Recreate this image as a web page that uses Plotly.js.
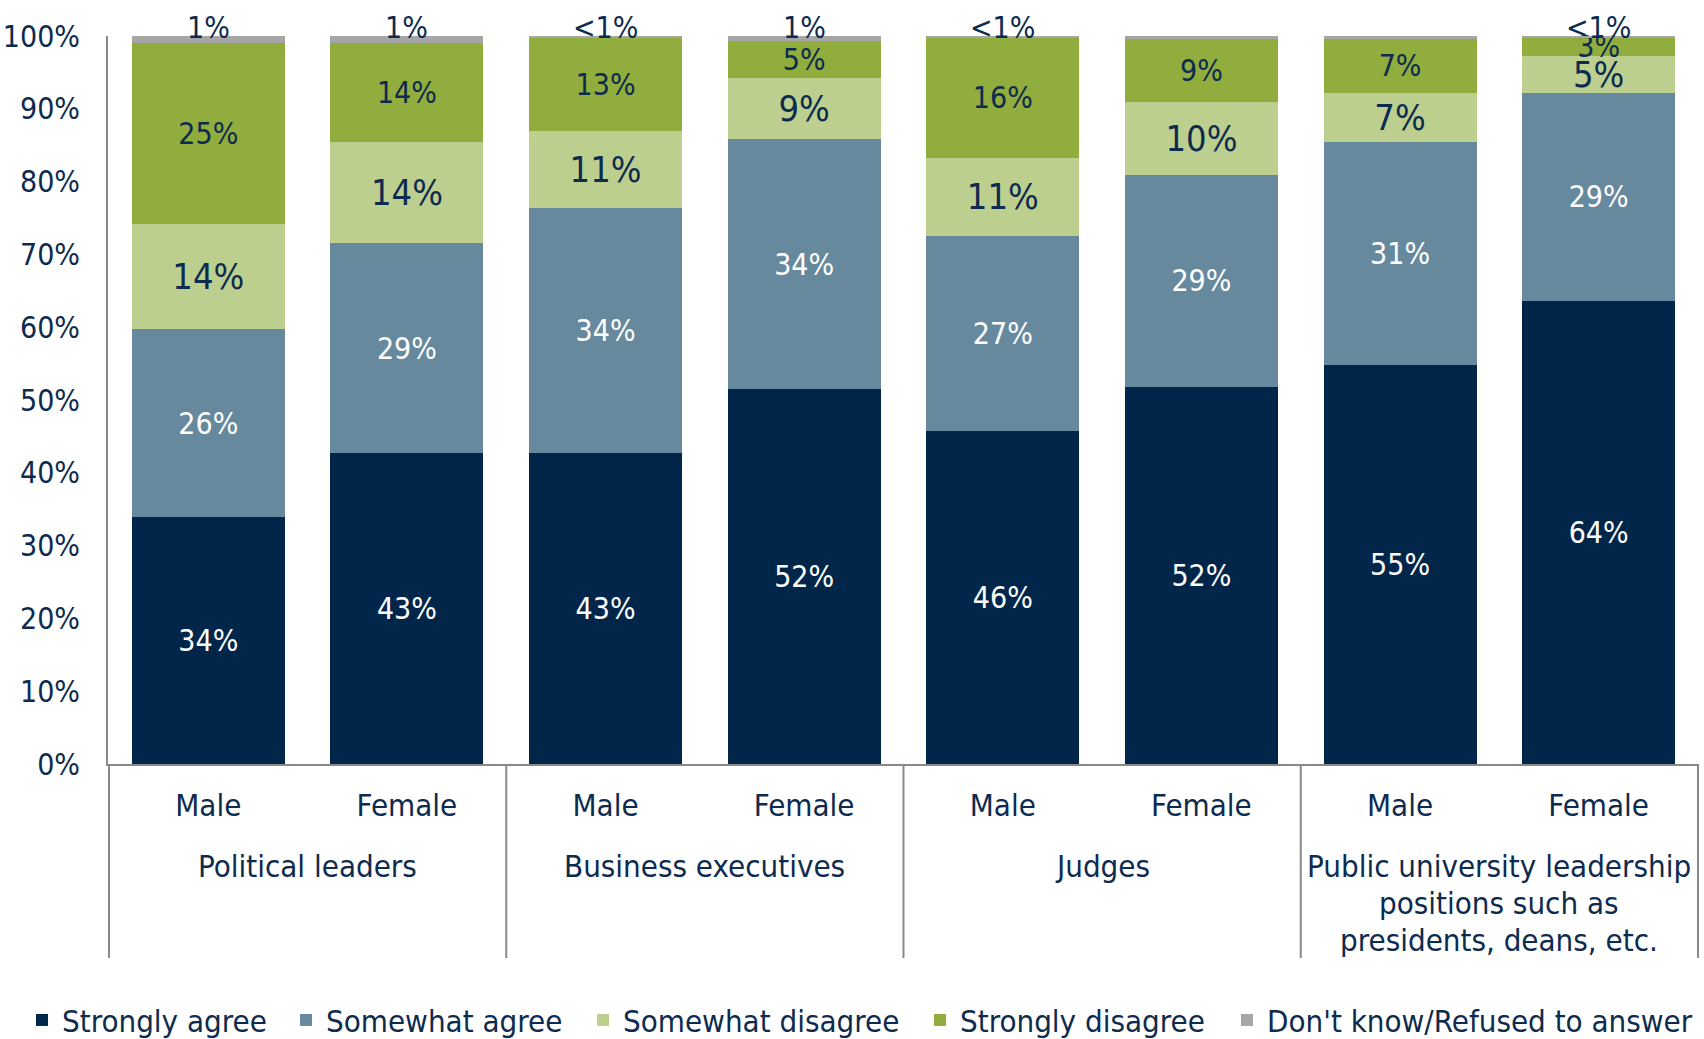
<!DOCTYPE html>
<html>
<head>
<meta charset="utf-8">
<script src="https://cdn.plot.ly/plotly-3.0.1.min.js"></script>
<style>
  html, body { margin: 0; padding: 0; background: #ffffff; }
  #chart { width: 1704px; height: 1039px; }
</style>
</head>
<body>
<div id="chart"></div>
<script>
// ---- Data ----
const groupLines = [
  ["Political leaders"],
  ["Business executives"],
  ["Judges"],
  ["Public university leadership", "positions such as", "presidents, deans, etc."]
];
const categories = ["PL-Male", "PL-Female", "BE-Male", "BE-Female",
                    "J-Male", "J-Female", "PU-Male", "PU-Female"];
const tickLabels = ["Male", "Female", "Male", "Female", "Male", "Female", "Male", "Female"];

const seriesNames = ["Strongly agree", "Somewhat agree", "Somewhat disagree",
                     "Strongly disagree", "Don't know/Refused to answer"];

const stronglyAgree    = [33.9, 42.7, 42.7, 51.5, 45.7, 51.8, 54.8, 63.6];
const somewhatAgree    = [25.8, 28.8, 33.7, 34.3, 26.8, 29.1, 30.7, 28.6];
const somewhatDisagree = [14.5, 14.0, 10.6,  8.4, 10.8, 10.0,  6.7,  5.1];
const stronglyDisagree = [24.8, 13.5, 12.7,  5.1, 16.4,  8.7,  7.4,  2.4];
const dontKnow         = [ 1.0,  1.0,  0.3,  0.7,  0.3,  0.4,  0.4,  0.3];

const saLabels  = ["34%", "43%", "43%", "52%", "46%", "52%", "55%", "64%"];
const swaLabels = ["26%", "29%", "34%", "34%", "27%", "29%", "31%", "29%"];
const swdLabels = ["14%", "14%", "11%", "9%", "11%", "10%", "7%", "5%"];
const sdLabels  = ["25%", "14%", "13%", "5%", "16%", "9%", "7%", "3%"];
const dkLabels  = ["1%", "1%", "<1%", "1%", "<1%", "<1%", "<1%", "<1%"];

const yTicks = [0, 10, 20, 30, 40, 50, 60, 70, 80, 90, 100];
const yTickLabels = ["0%", "10%", "20%", "30%", "40%", "50%", "60%", "70%", "80%", "90%", "100%"];

// ---- Styles ----
const colors = ["#02264a", "#67899e", "#bdcf8f", "#90ad3e", "#a6a6a6"];
const navy = "#0d2b4f";
const font = "'DejaVu Sans Condensed', 'DejaVu Sans', sans-serif";

const seriesValues = [stronglyAgree, somewhatAgree, somewhatDisagree, stronglyDisagree, dontKnow];
const seriesLabels = [saLabels, swaLabels, swdLabels, sdLabels, null];
const textColors = ["#ffffff", "#ffffff", navy, navy, navy];
const textSizes = [30, 30, 36, 30, 30];
const legendX = [22, 286, 583, 920, 1227];
const legendIds = ["legend", "legend2", "legend3", "legend4", "legend5"];

const traces = seriesValues.map((vals, i) => {
  const t = {
    type: "bar",
    name: seriesNames[i],
    x: categories,
    y: vals,
    marker: { color: colors[i], line: { width: 0 } },
    hoverinfo: "skip",
    cliponaxis: false,
    legend: legendIds[i]
  };
  if (seriesLabels[i]) {
    t.text = seriesLabels[i];
    t.textposition = "inside";
    t.insidetextanchor = "middle";
    t.textangle = 0;
    t.constraintext = "none";
    t.insidetextfont = { family: font, size: textSizes[i], color: textColors[i] };
  }
  return t;
});

const totals = categories.map((c, k) => seriesValues.reduce((s, arr) => s + arr[k], 0));

const annotations = [];
categories.forEach((c, k) => {
  annotations.push({
    x: c, y: totals[k], xref: "x", yref: "y",
    text: dkLabels[k], showarrow: false,
    yanchor: "bottom", yshift: -11,
    font: { family: font, size: 30, color: navy }
  });
});

const plotH = 728;
const linePitch = 37;
groupLines.forEach((lines, gi) => {
  lines.forEach((line, j) => {
    annotations.push({
      x: gi * 2 + 0.5, xref: "x",
      y: -(846 - 764) / plotH, yref: "paper",
      yshift: -linePitch * j,
      text: line, showarrow: false,
      yanchor: "top", xanchor: "center", align: "center",
      font: { family: font, size: 31, color: navy }
    });
  });
});

const shapes = [];
[-0.5, 1.5, 3.5, 5.5, 7.5].forEach(xv => {
  shapes.push({
    type: "line", xref: "x", yref: "paper",
    x0: xv, x1: xv, y0: 0, y1: -(958 - 764) / plotH,
    line: { color: "#898989", width: 2 }
  });
});

const layout = {
  width: 1704, height: 1039,
  margin: { l: 108, r: 5, t: 36, b: 275, pad: 0 },
  paper_bgcolor: "#ffffff",
  plot_bgcolor: "#ffffff",
  barmode: "stack",
  bargap: 0.23,
  showlegend: true,
  xaxis: {
    type: "category",
    tickvals: categories,
    ticktext: tickLabels,
    tickfont: { family: font, size: 31, color: navy },
    showline: true, linecolor: "#898989", linewidth: 2,
    ticks: "", showgrid: false, zeroline: false,
    ticklabelstandoff: 13,
    automargin: false, fixedrange: true
  },
  yaxis: {
    range: [0, 100],
    tickvals: yTicks,
    ticktext: yTickLabels,
    tickfont: { family: font, size: 30, color: navy },
    showline: true, linecolor: "#898989", linewidth: 2,
    ticks: "", showgrid: false, zeroline: false,
    ticklabelstandoff: 20,
    automargin: false, fixedrange: true
  },
  annotations: annotations,
  shapes: shapes
};

legendIds.forEach((id, i) => {
  layout[id] = {
    orientation: "h",
    xref: "container", yref: "container",
    x: legendX[i] / 1704, xanchor: "left",
    y: 0.018, yanchor: "middle",
    font: { family: font, size: 31, color: navy },
    bgcolor: "rgba(0,0,0,0)",
    itemclick: false, itemdoubleclick: false
  };
});

Plotly.newPlot("chart", traces, layout, { displayModeBar: false, staticPlot: true });
</script>
</body>
</html>
